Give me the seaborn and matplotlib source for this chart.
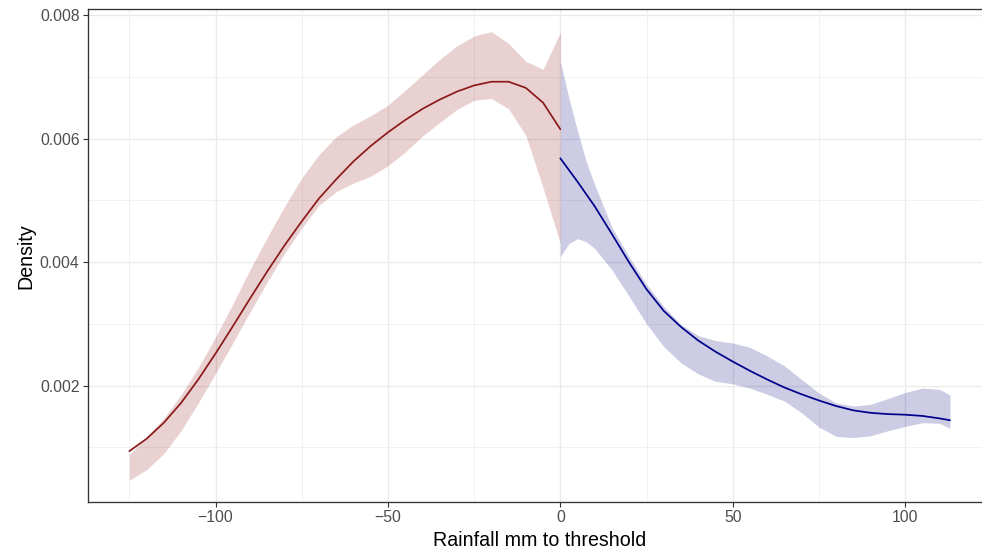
import numpy as np
import pandas as pd
import matplotlib
matplotlib.use("Agg")
import matplotlib.pyplot as plt
import seaborn as sns

# ---- data ----
below_x = [-125, -120, -115, -110, -105, -100, -95, -90, -85, -80, -75, -70, -65,
           -60, -55, -50, -45, -40, -35, -30, -25, -20, -15, -10, -5, 0]
below_fit = [0.00094, 0.00114, 0.00140, 0.00172, 0.00210, 0.00252, 0.00296, 0.00341,
             0.00385, 0.00427, 0.00466, 0.00503, 0.00534, 0.00563, 0.00588, 0.00610,
             0.00630, 0.00648, 0.00663, 0.00676, 0.00686, 0.00692, 0.00692, 0.00682,
             0.00658, 0.00615]
below_upper = [0.00088, 0.00117, 0.00147, 0.00185, 0.00229, 0.00279, 0.00332, 0.00388,
               0.00440, 0.00490, 0.00536, 0.00574, 0.00603, 0.00622, 0.00637, 0.00654,
               0.00678, 0.00703, 0.00728, 0.00750, 0.00766, 0.00773, 0.00754, 0.00725,
               0.00712, 0.00772]
below_lower = [0.00047, 0.00064, 0.00090, 0.00127, 0.00172, 0.00220, 0.00269, 0.00319,
               0.00368, 0.00414, 0.00455, 0.00492, 0.00514, 0.00528, 0.00539, 0.00556,
               0.00578, 0.00604, 0.00626, 0.00647, 0.00662, 0.00665, 0.00648, 0.00605,
               0.00520, 0.00430]

above_x = [0, 2.5, 5, 7.5, 10, 15, 20, 25, 30, 35, 40, 45, 50, 55, 60, 65, 70, 75,
           80, 85, 90, 95, 100, 105, 110, 113]
above_fit = [0.00568, 0.00549, 0.00530, 0.00510, 0.00490, 0.00445, 0.00399, 0.00356,
             0.00321, 0.00295, 0.00273, 0.00255, 0.00239, 0.00224, 0.00210, 0.00197,
             0.00186, 0.00176, 0.00167, 0.00160, 0.00156, 0.00154, 0.00153, 0.00151,
             0.00147, 0.00144]
above_upper = [0.00725, 0.00665, 0.00612, 0.00563, 0.00525, 0.00456, 0.00408, 0.00364,
               0.00328, 0.00299, 0.00281, 0.00273, 0.00269, 0.00262, 0.00248, 0.00232,
               0.00210, 0.00188, 0.00172, 0.00167, 0.00170, 0.00179, 0.00189, 0.00196,
               0.00194, 0.00185]
above_lower = [0.00409, 0.00430, 0.00438, 0.00433, 0.00422, 0.00387, 0.00344, 0.00300,
               0.00263, 0.00237, 0.00219, 0.00207, 0.00203, 0.00196, 0.00186, 0.00175,
               0.00156, 0.00133, 0.00118, 0.00116, 0.00119, 0.00127, 0.00134, 0.00140,
               0.00139, 0.00131]

x_ticks = [-100, -50, 0, 50, 100]
y_ticks = [0.002, 0.004, 0.006, 0.008]
x_minor = [-125, -75, -25, 25, 75]
y_minor = [0.001, 0.003, 0.005, 0.007]

red_line = "#8B1A1A"
blue_line = "#00008B"

df = pd.concat([
    pd.DataFrame({"x": below_x, "fit": below_fit, "lo": below_lower, "hi": below_upper, "side": "below"}),
    pd.DataFrame({"x": above_x, "fit": above_fit, "lo": above_lower, "hi": above_upper, "side": "above"}),
], ignore_index=True)

sns.set_theme(style="white")
plt.rcParams["font.family"] = ["Liberation Sans", "DejaVu Sans"]

fig = plt.figure(figsize=(9.82, 5.54), dpi=100)
ax = fig.add_axes([88.3 / 982, (554 - 502.3) / 554, (991 - 88.3) / 982, (502.3 - 9) / 554])

# grid
grid_c = "#EBEBEB"
for v in x_minor:
    ax.axvline(v, color=grid_c, lw=0.5, zorder=0)
for v in y_minor:
    ax.axhline(v, color=grid_c, lw=0.5, zorder=0)
for v in x_ticks:
    ax.axvline(v, color=grid_c, lw=0.95, zorder=0)
for v in y_ticks:
    ax.axhline(v, color=grid_c, lw=0.95, zorder=0)

b = df[df.side == "below"]
a = df[df.side == "above"]
ax.fill_between(b.x, b.lo, b.hi, color="#8B0000", alpha=0.18, lw=0, zorder=1)
ax.fill_between(a.x, a.lo, a.hi, color="#000080", alpha=0.2, lw=0, zorder=1)

sns.lineplot(data=df, x="x", y="fit", hue="side", palette={"below": red_line, "above": blue_line},
             lw=1.25, ax=ax, legend=False, zorder=3, estimator=None, sort=True)

ax.set_xlim(-136.9, 124.9)
ax.set_ylim(0.000112, 0.008097)
ax.set_xticks(x_ticks)
ax.set_xticklabels([f"{v:d}".replace("-", "\u2212") for v in x_ticks])
ax.set_yticks(y_ticks)
ax.set_yticklabels([f"{v:.3f}" for v in y_ticks])

ax.tick_params(axis="both", which="major", length=3.3, width=0.8, color="#333333",
               labelsize=11.3, labelcolor="#4D4D4D", bottom=True, left=True)
ax.tick_params(axis="x", pad=2.0)
ax.tick_params(axis="y", pad=3.0)

for s in ax.spines.values():
    s.set_color("#333333")
    s.set_linewidth(0.95)
    s.set_visible(True)

ax.set_xlabel("Rainfall mm to threshold", fontsize=14.1, color="black", labelpad=4.5)
ax.set_ylabel("Density", fontsize=14.1, color="black", labelpad=3)

fig.savefig("out.png", dpi=100)
